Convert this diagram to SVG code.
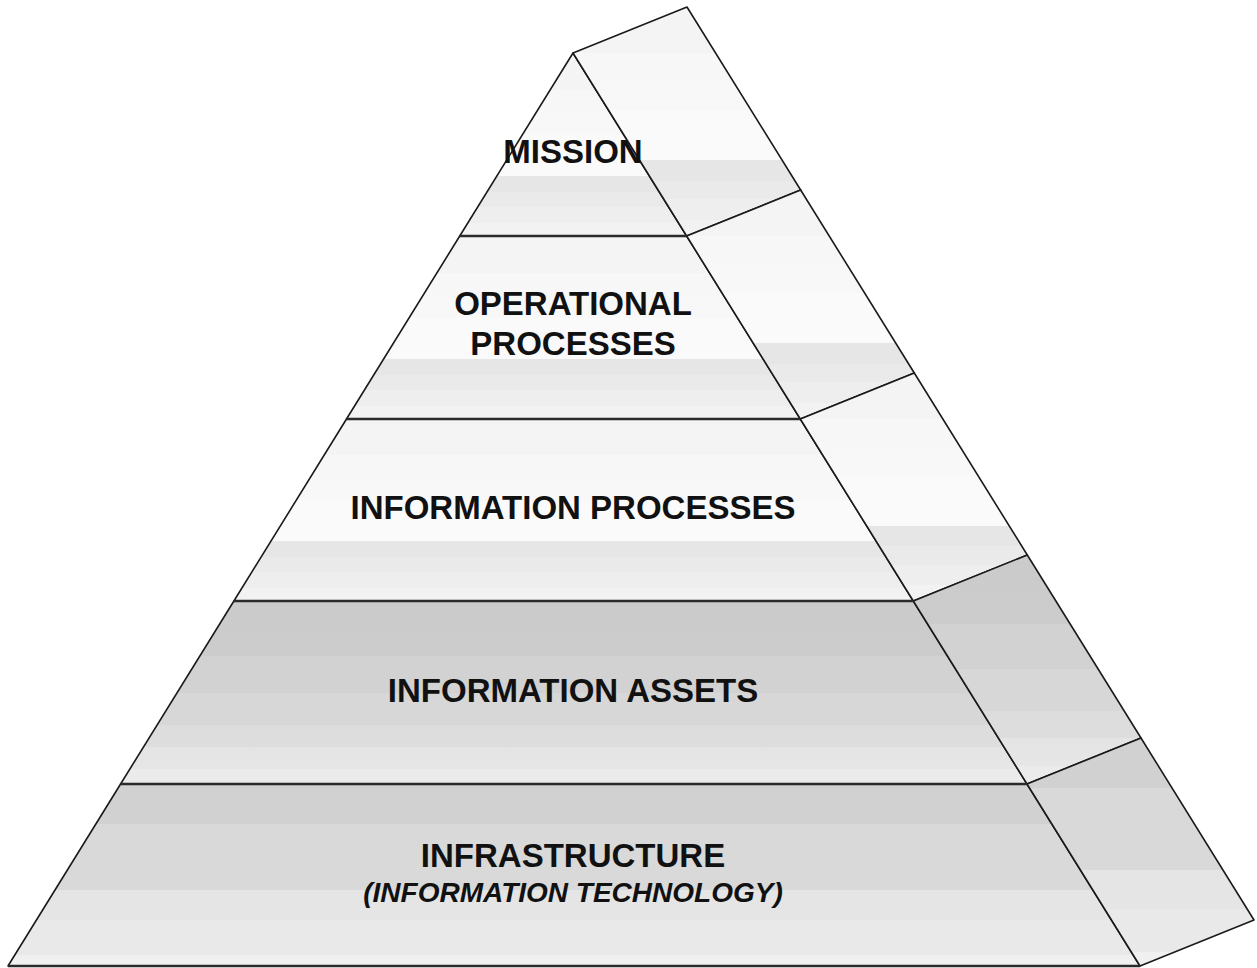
<svg xmlns="http://www.w3.org/2000/svg" width="1257" height="968" viewBox="0 0 1257 968">
<style>
.edge{stroke:#1a1a1a;stroke-width:1.6;stroke-linejoin:round}
.sep{stroke:#2a2a2a;stroke-width:2.6;fill:none}
.lbl{font-family:"Liberation Sans",Arial,sans-serif;font-weight:bold;font-size:33px;fill:#111;text-anchor:middle}
.sub{font-family:"Liberation Sans",Arial,sans-serif;font-weight:bold;font-style:italic;font-size:28px;fill:#111;text-anchor:middle}
</style>
<defs>
<linearGradient id="light" x1="0" y1="0" x2="0" y2="1">
<stop offset="0" stop-color="#f4f4f4"/>
<stop offset="0.2" stop-color="#f4f4f4"/>
<stop offset="0.2" stop-color="#f7f7f7"/>
<stop offset="0.45" stop-color="#f8f8f8"/>
<stop offset="0.45" stop-color="#fafafa"/>
<stop offset="0.67" stop-color="#fafafa"/>
<stop offset="0.67" stop-color="#e6e6e6"/>
<stop offset="0.76" stop-color="#e6e6e6"/>
<stop offset="0.76" stop-color="#eaeaea"/>
<stop offset="0.84" stop-color="#eaeaea"/>
<stop offset="0.84" stop-color="#eeeeee"/>
<stop offset="0.93" stop-color="#eeeeee"/>
<stop offset="0.93" stop-color="#f2f2f2"/>
<stop offset="1" stop-color="#f2f2f2"/>
</linearGradient>
<linearGradient id="assets" x1="0" y1="0" x2="0" y2="1">
<stop offset="0" stop-color="#cbcbcb"/>
<stop offset="0.3" stop-color="#cccccc"/>
<stop offset="0.3" stop-color="#d2d2d2"/>
<stop offset="0.5" stop-color="#d2d2d2"/>
<stop offset="0.5" stop-color="#d7d7d7"/>
<stop offset="0.68" stop-color="#d7d7d7"/>
<stop offset="0.68" stop-color="#dddddd"/>
<stop offset="0.8" stop-color="#dddddd"/>
<stop offset="0.8" stop-color="#e4e4e4"/>
<stop offset="0.92" stop-color="#e6e6e6"/>
<stop offset="0.92" stop-color="#ebebeb"/>
<stop offset="1" stop-color="#ebebeb"/>
</linearGradient>
<linearGradient id="infra" x1="0" y1="0" x2="0" y2="1">
<stop offset="0" stop-color="#d1d1d1"/>
<stop offset="0.22" stop-color="#d1d1d1"/>
<stop offset="0.22" stop-color="#d9d9d9"/>
<stop offset="0.58" stop-color="#d9d9d9"/>
<stop offset="0.58" stop-color="#e5e5e5"/>
<stop offset="0.75" stop-color="#e5e5e5"/>
<stop offset="0.75" stop-color="#e9e9e9"/>
<stop offset="0.94" stop-color="#e9e9e9"/>
<stop offset="0.94" stop-color="#f0f0f0"/>
<stop offset="1" stop-color="#f0f0f0"/>
</linearGradient>
</defs>
<rect width="1257" height="968" fill="#ffffff"/>

<g id="mission">
<polygon class="edge" fill="url(#light)" points="573,53 686.65,236 459.75,236"/>
<polygon class="edge" fill="url(#light)" points="573,53 687,7 800.65,190 686.65,236"/>
<text class="lbl" x="573" y="163">MISSION</text>
</g>

<g id="operational">
<polygon class="edge" fill="url(#light)" points="459.75,236 686.65,236 800.3,419 346.5,419"/>
<polygon class="edge" fill="url(#light)" points="686.65,236 800.65,190 914.3,373 800.3,419"/>
<text class="lbl" x="573" y="315">OPERATIONAL</text>
<text class="lbl" x="573" y="355">PROCESSES</text>
</g>

<g id="information-processes">
<polygon class="edge" fill="url(#light)" points="346.5,419 800.3,419 913.3,601 233.9,601"/>
<polygon class="edge" fill="url(#light)" points="800.3,419 914.3,373 1027.3,555 913.3,601"/>
<text class="lbl" x="573" y="519">INFORMATION PROCESSES</text>
</g>

<g id="information-assets">
<polygon class="edge" fill="url(#assets)" points="233.9,601 913.3,601 1027,784 120.6,784"/>
<polygon class="edge" fill="url(#assets)" points="913.3,601 1027.3,555 1141,738 1027,784"/>
<text class="lbl" x="573" y="702">INFORMATION ASSETS</text>
</g>

<g id="infrastructure">
<polygon class="edge" fill="url(#infra)" points="120.6,784 1027,784 1140,966 8,966"/>
<polygon class="edge" fill="url(#infra)" points="1027,784 1141,738 1254,920 1140,966"/>
<text class="lbl" x="573" y="867">INFRASTRUCTURE</text>
<text class="sub" x="573" y="902">(INFORMATION TECHNOLOGY)</text>
</g>

<g id="connectors">
<line class="sep" x1="459.75" y1="236" x2="686.65" y2="236"/>
<line class="sep" x1="346.5" y1="419" x2="800.3" y2="419"/>
<line class="sep" x1="233.9" y1="601" x2="913.3" y2="601"/>
<line class="sep" x1="120.6" y1="784" x2="1027" y2="784"/>
<line class="sep" x1="8" y1="966" x2="1140" y2="966"/>
</g>
</svg>
